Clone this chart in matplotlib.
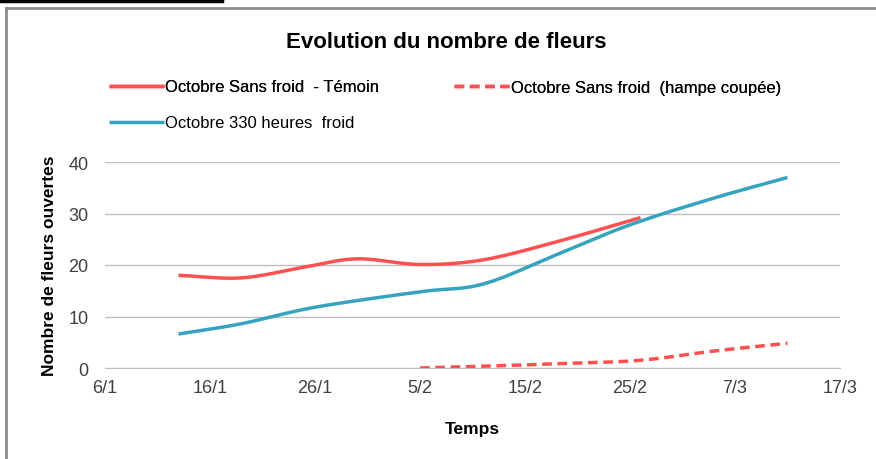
import numpy as np
import matplotlib
matplotlib.use('Agg')
import matplotlib.pyplot as plt
import matplotlib.dates as mdates
from matplotlib.lines import Line2D
from datetime import date, timedelta

plt.rcParams['font.family'] = ['Liberation Sans', 'DejaVu Sans']

# Données
dates_temoin = ['2014-01-13', '2014-01-19', '2014-01-25', '2014-01-30', '2014-02-05',
                '2014-02-11', '2014-02-18', '2014-02-26']
fleurs_temoin = [18, 17.5, 19.6, 21.2, 20.1, 21, 24.5, 29.2]

dates_coupee = ['2014-02-05', '2014-02-12', '2014-02-19', '2014-02-26', '2014-03-05', '2014-03-12']
fleurs_coupee = [0, 0.4, 0.9, 1.5, 3.3, 4.8]

dates_froid = ['2014-01-13', '2014-01-19', '2014-01-26', '2014-02-05', '2014-02-11',
               '2014-02-18', '2014-02-25', '2014-03-05', '2014-03-12']
fleurs_froid = [6.6, 8.6, 11.8, 14.8, 16.3, 22, 27.8, 33, 37]

labels = ['Octobre Sans froid  - Témoin', 'Octobre Sans froid  (hampe coupée)',
          'Octobre 330 heures  froid']

rouge = '#ff5050'
bleu = '#36a3bf'


def lisse(dates, vals, n=30):
    # courbe lissée façon Excel (Catmull-Rom)
    x = mdates.datestr2num(dates)
    y = np.array(vals, dtype=float)
    px = np.concatenate([[2 * x[0] - x[1]], x, [2 * x[-1] - x[-2]]])
    py = np.concatenate([[2 * y[0] - y[1]], y, [2 * y[-1] - y[-2]]])
    xs, ys = [], []
    t = np.linspace(0, 1, n)
    for i in range(1, len(px) - 2):
        for p, out in ((px, xs), (py, ys)):
            p0, p1, p2, p3 = p[i - 1], p[i], p[i + 1], p[i + 2]
            out.extend(0.5 * ((2 * p1) + (-p0 + p2) * t + (2 * p0 - 5 * p1 + 4 * p2 - p3) * t ** 2
                              + (-p0 + 3 * p1 - 3 * p2 + p3) * t ** 3))
    return xs, ys


fig = plt.figure(figsize=(8.76, 4.6), dpi=100)
ax = fig.add_axes([105 / 876, 1 - 369 / 460, 735 / 876, 206 / 460])

l1, = ax.plot(*lisse(dates_temoin, fleurs_temoin), color=rouge, lw=2.5, solid_capstyle='butt')
l2, = ax.plot(*lisse(dates_coupee, fleurs_coupee), color=rouge, lw=2.5, ls=(0, (2.8, 1.6)))
l3, = ax.plot(*lisse(dates_froid, fleurs_froid), color=bleu, lw=2.5, solid_capstyle='butt')

debut = date(2014, 1, 6)
ticks = [debut + timedelta(days=10 * k) for k in range(8)]
ax.set_xticks(mdates.date2num(ticks))
ax.set_xticklabels([f"{d.day}/{d.month}" for d in ticks])
ax.set_xlim(mdates.date2num(ticks[0]), mdates.date2num(ticks[-1]))
ax.set_ylim(0, 40)
ax.set_yticks([0, 10, 20, 30, 40])

ax.grid(axis='y', color='#bfbfbf', lw=1)
ax.set_axisbelow(True)
for s in ['top', 'right', 'left']:
    ax.spines[s].set_visible(False)
ax.spines['bottom'].set_color('#bfbfbf')
ax.tick_params(length=0, labelsize=13, colors='#404040', pad=8)
ax.tick_params(axis='y', pad=12)

ax.set_xlabel('Temps', fontsize=12.5, fontweight='bold', labelpad=18)
ax.set_ylabel('Nombre de fleurs ouvertes', fontsize=12.5, fontweight='bold', labelpad=8)

fig.text(446 / 876, 1 - 42 / 460, 'Evolution du nombre de fleurs', fontsize=16,
         fontweight='bold', ha='center', va='center', color='#000000')

leg1 = fig.legend([l1, l2], labels[:2], loc='center left', bbox_to_anchor=(102 / 876, 1 - 88 / 460),
                  ncol=2, frameon=False, fontsize=12, handlelength=3.3, handletextpad=0.1,
                  columnspacing=4.5, borderaxespad=0)
fig.legend([l3], labels[2:], loc='center left', bbox_to_anchor=(102 / 876, 1 - 124 / 460),
           frameon=False, fontsize=12, handlelength=3.3, handletextpad=0.1, borderaxespad=0)
fig.add_artist(leg1)

# cadre gris et trait noir en haut
fig.add_artist(Line2D([6 / 876, 1], [1 - 9 / 460, 1 - 9 / 460], color='#8c8c8c', lw=2))
fig.add_artist(Line2D([6 / 876, 6 / 876], [0, 1 - 9 / 460], color='#8c8c8c', lw=2))
fig.add_artist(Line2D([0, 222 / 876], [1 - 1.5 / 460, 1 - 1.5 / 460], color='black', lw=2.5))

fig.savefig('out.png', dpi=100)
